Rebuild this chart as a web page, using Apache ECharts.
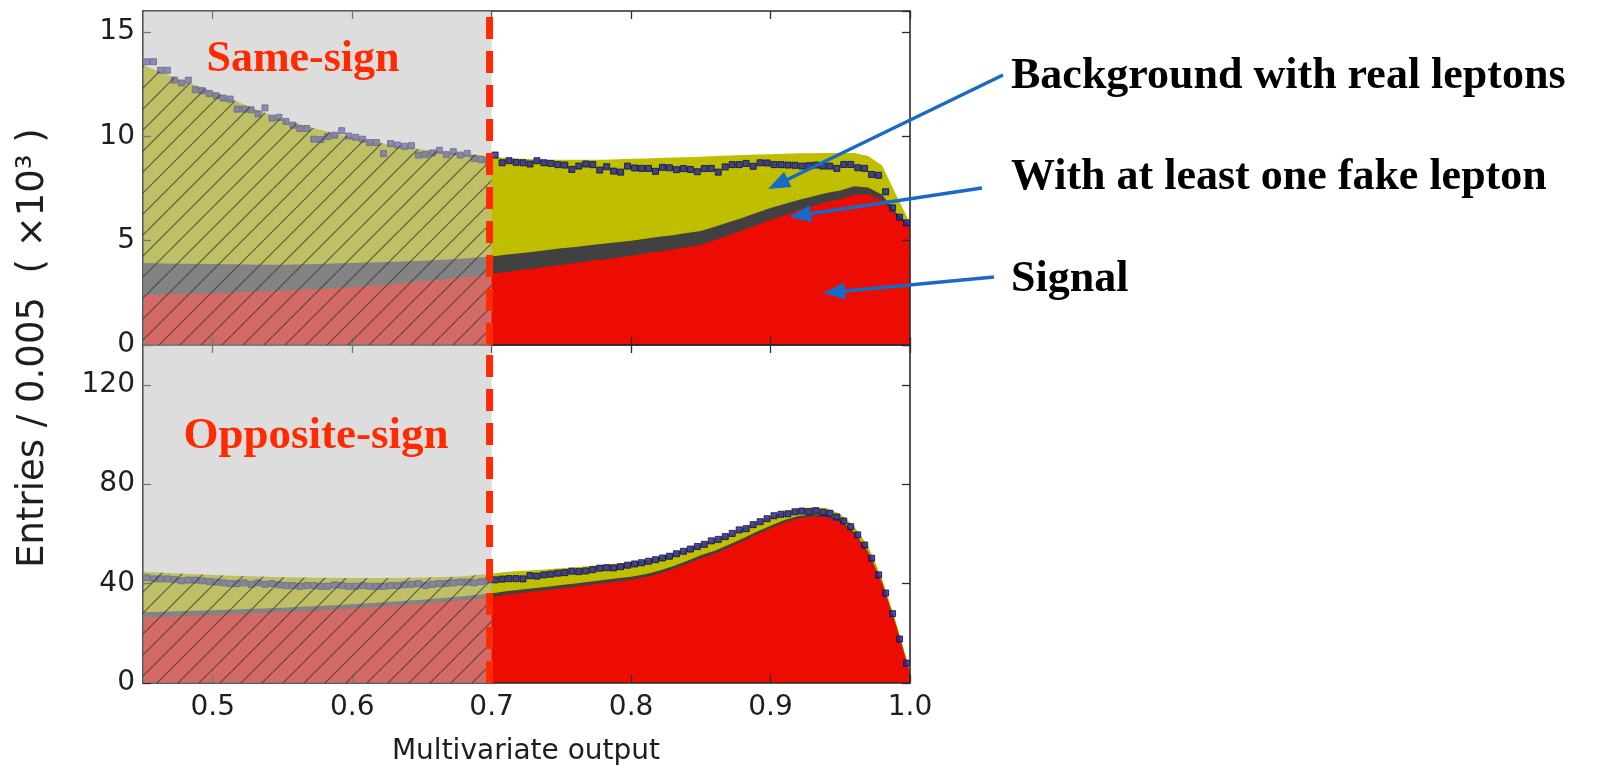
<!DOCTYPE html>
<html><head><meta charset="utf-8">
<script src="https://cdn.jsdelivr.net/npm/echarts@6/dist/echarts.min.js"></script>
<style>html,body{margin:0;padding:0;background:#fff}#c{width:1598px;height:768px}</style>
</head><body><div id="c"></div>
<script>
// ---------------- data ----------------
const xTicks = [0.5, 0.6, 0.7, 0.8, 0.9, 1.0];
const topYTicksInterval = 5, topYMax = 16;
const botYTicksInterval = 40, botYMax = 136;
const xMin = 0.45, xMax = 1.0;
const shadeStart = 0.45, shadeEnd = 0.7, cutValue = 0.6985;

// sample positions of the stacked predictions
const areaX = [0.45,0.475,0.5,0.525,0.55,0.575,0.6,0.625,0.65,0.675,0.7,
  0.71,0.72,0.73,0.74,0.75,0.76,0.77,0.78,0.79,0.8,0.81,0.82,0.83,0.84,0.85,
  0.86,0.87,0.88,0.89,0.9,0.91,0.92,0.93,0.94,0.95,0.96,0.97,0.98,0.99,1.0];

// Same-sign (x10^3)
const topSignal = [2.40,2.44,2.48,2.54,2.60,2.68,2.77,2.90,3.04,3.20,3.41,
  3.50,3.58,3.67,3.76,3.85,3.93,4.02,4.10,4.19,4.28,4.38,4.48,4.58,4.69,4.80,
  5.03,5.26,5.50,5.75,6.00,6.22,6.45,6.65,6.85,7.00,7.20,7.20,6.95,6.20,5.60];
const topFake = [1.53,1.45,1.40,1.32,1.25,1.20,1.16,1.08,1.00,0.92,0.83,
  0.82,0.81,0.80,0.79,0.78,0.77,0.76,0.75,0.73,0.72,0.71,0.70,0.68,0.67,0.66,
  0.64,0.62,0.60,0.58,0.56,0.53,0.50,0.46,0.43,0.40,0.40,0.35,0.25,0.15,0.10];
const topReal = [9.47,8.86,8.27,7.59,6.95,6.47,6.02,5.64,5.33,5.08,4.81,
  4.63,4.53,4.43,4.33,4.25,4.17,4.09,4.03,3.98,3.92,3.85,3.78,3.72,3.64,3.56,
  3.38,3.20,3.00,2.79,2.58,2.41,2.23,2.08,1.92,1.80,1.60,1.50,1.40,0.85,0.15];
const topData = [13.57,13.57,13.16,13.16,12.69,12.55,12.69,12.23,12.18,12.05,
  11.94,11.83,11.78,11.30,11.30,11.27,11.07,11.36,10.87,10.91,
  10.71,10.53,10.37,10.37,9.86,9.84,9.98,10.05,10.27,10.01,
  9.95,9.86,9.70,9.70,9.17,9.65,9.58,9.52,9.55,9.10,
  9.12,9.20,9.33,9.12,9.26,9.10,9.18,8.93,8.88,8.83,
  9.10,8.73,8.83,8.75,8.73,8.67,8.83,8.73,8.70,8.64,
  8.62,8.41,8.57,8.67,8.64,8.38,8.54,8.33,8.28,8.57,
  8.48,8.46,8.46,8.32,8.51,8.49,8.40,8.45,8.41,8.30,
  8.45,8.46,8.28,8.53,8.64,8.64,8.70,8.56,8.73,8.72,
  8.64,8.64,8.62,8.61,8.57,8.59,8.62,8.57,8.57,8.46,
  8.65,8.65,8.49,8.46,8.17,8.13,7.34,6.57,6.12,5.85];

// Opposite-sign (x10^3)
const botSignal = [26.5,26.9,27.4,27.9,28.5,29.2,30.0,30.9,31.9,33.1,34.5,
  35.5,36.1,36.8,37.4,38.1,38.7,39.4,40.1,40.8,41.5,42.6,44.0,45.8,47.9,50.2,
  52.0,54.5,57.0,59.8,62.3,64.6,66.2,67.0,66.8,64.8,60.0,52.2,39.8,22.8,3.5];
const botFake = [2.0,2.0,1.9,1.9,1.8,1.8,1.7,1.7,1.6,1.6,1.5,
  1.4,1.4,1.3,1.3,1.3,1.3,1.3,1.3,1.3,1.3,1.2,1.2,1.2,1.2,1.2,
  1.2,1.1,1.1,1.1,1.0,1.0,1.0,0.9,0.9,0.8,0.7,0.6,0.5,0.4,0.3];
const botReal = [16.3,15.2,14.2,13.2,12.3,11.3,10.5,9.6,8.9,8.1,8.0,
  7.8,7.6,7.3,7.1,6.8,6.6,6.4,6.2,6.0,5.8,5.6,5.4,5.2,5.0,4.8,
  4.6,4.4,4.2,4.0,3.8,3.3,3.0,2.8,2.7,2.4,2.3,2.2,1.7,1.3,1.2];
const botData = [42.4,41.9,41.9,41.9,41.6,41.1,41.4,41.4,41.1,40.8,
  40.6,40.3,40.0,40.0,40.3,39.7,40.3,39.7,40.0,39.5,
  39.2,39.2,38.9,39.2,39.2,38.9,38.9,39.5,39.2,38.9,
  38.9,39.2,38.9,38.9,38.9,39.2,39.2,39.5,39.7,40.0,
  39.2,39.7,40.0,40.0,40.3,40.6,40.6,40.3,40.8,41.4,
  41.5,41.8,42.0,42.0,41.9,43.2,43.0,43.5,43.8,44.2,
  44.4,45.0,44.8,45.1,45.6,46.2,46.4,46.3,46.8,47.4,
  47.9,48.4,49.0,49.6,50.3,51.0,52.0,53.0,53.9,54.9,
  55.8,57.2,57.8,58.9,60.2,61.6,62.1,63.7,64.9,66.1,
  67.3,67.9,68.1,68.9,69.2,68.9,69.3,68.7,68.3,66.8,
  65.2,62.9,59.6,55.5,50.2,43.5,36.2,27.9,17.7,8.0];

const binWidth = 0.005;
const binCenters = topData.map((_, i) => +(xMin + binWidth / 2 + i * binWidth).toFixed(4));

// ---------------- styles ----------------
const C_SIG = '#ec0c02', C_FAKE = '#414141', C_REAL = '#bfbf00';
const C_DOT = '#2323a8', C_DOT_EDGE = '#0b0b40';
const C_SHADE = 'rgba(190,190,190,0.53)';
const C_CUT = '#ff2a00';
const C_AXIS = '#2a2a2a';
const C_ARROW = '#176bc4';

function hatchCanvas() {
  const s = 21, c = document.createElement('canvas');
  c.width = s; c.height = s;
  const g = c.getContext('2d');
  g.strokeStyle = 'rgba(50,50,50,0.7)'; g.lineWidth = 1.2;
  for (const k of [-s, 0, s]) { g.beginPath(); g.moveTo(k, s); g.lineTo(k + s, 0); g.stroke(); }
  return c;
}
const hatch = hatchCanvas();

function panelSeries(p, sig, fake, real, dots, yMax) {
  const xi = p * 2, yi = p * 2;
  // cumulative stack levels, drawn back-to-front
  const lvlSig = areaX.map((x, i) => [x, sig[i]]);
  const lvlFake = areaX.map((x, i) => [x, +(sig[i] + fake[i]).toFixed(3)]);
  const lvlReal = areaX.map((x, i) => [x, +(sig[i] + fake[i] + real[i]).toFixed(3)]);
  const left = lvlReal.filter(d => d[0] <= shadeEnd);
  const base = { type: 'line', xAxisIndex: xi, yAxisIndex: yi, symbol: 'none', silent: true,
    lineStyle: { opacity: 0 }, animation: false };
  return [
    Object.assign({}, base, { name: 'Background with real leptons', data: lvlReal, areaStyle: { color: C_REAL, opacity: 1 }, z: 2 }),
    Object.assign({}, base, { name: 'With at least one fake lepton', data: lvlFake, areaStyle: { color: C_FAKE, opacity: 1 }, z: 2 }),
    Object.assign({}, base, { name: 'Signal', data: lvlSig, areaStyle: { color: C_SIG, opacity: 1 }, z: 2 }),
    { type: 'scatter', xAxisIndex: xi, yAxisIndex: yi, data: binCenters.map((x, i) => [x, dots[i]]), symbol: 'rect', symbolSize: 6,
      itemStyle: { color: C_DOT, borderColor: C_DOT_EDGE, borderWidth: 1 }, z: 3, silent: true, animation: false },
    Object.assign({}, base, { name: 'shade', data: [[shadeStart, yMax], [shadeEnd, yMax]], areaStyle: { color: C_SHADE, opacity: 1 }, z: 5 }),
    Object.assign({}, base, { name: 'hatch', data: left, areaStyle: { color: { image: hatch, repeat: 'repeat' }, opacity: 1 }, z: 6 }),
    { type: 'line', xAxisIndex: xi, yAxisIndex: yi, symbol: 'none', silent: true, animation: false, z: 8,
      data: [[cutValue, 0], [cutValue, yMax]], lineStyle: { color: C_CUT, width: 7, type: [22, 12] } }
  ];
}

function xAx(grid, pos, labels) {
  return { type: 'value', gridIndex: grid, position: pos, min: xMin, max: xMax, z: 4,
    axisLine: { show: true, onZero: false, lineStyle: { color: C_AXIS, width: 1.6 } },
    axisTick: { show: true, inside: true, length: 8, customValues: xTicks, lineStyle: { color: C_AXIS, width: 1.3 } },
    axisLabel: { show: labels, customValues: xTicks, formatter: v => v.toFixed(1), margin: 11,
      fontFamily: 'DejaVu Sans', fontSize: 28, color: '#1e1e1e' },
    splitLine: { show: false } };
}
function yAx(grid, pos, max, interval, labels) {
  return { type: 'value', gridIndex: grid, position: pos, min: 0, max: max, interval: interval, z: 4,
    axisLine: { show: true, onZero: false, lineStyle: { color: C_AXIS, width: 1.6 } },
    axisTick: { show: true, inside: true, length: 8, lineStyle: { color: C_AXIS, width: 1.3 } },
    axisLabel: { show: labels, margin: 8, showMaxLabel: false, fontFamily: 'DejaVu Sans', fontSize: 28, color: '#1e1e1e' },
    splitLine: { show: false } };
}

function arrow(x1, y1, x2, y2) {
  const dx = x2 - x1, dy = y2 - y1, L = Math.hypot(dx, dy), ux = dx / L, uy = dy / L, hl = 22, hw = 8.5;
  const bx = x2 - ux * hl, by = y2 - uy * hl;
  return [
    { type: 'line', shape: { x1: x1, y1: y1, x2: bx + ux * 2, y2: by + uy * 2 }, style: { stroke: C_ARROW, lineWidth: 3.5 }, z: 20 },
    { type: 'polygon', shape: { points: [[x2, y2], [bx - uy * hw, by + ux * hw], [bx + uy * hw, by - ux * hw]] }, style: { fill: C_ARROW }, z: 20 }
  ];
}
const serif = 'bold 44px "Liberation Serif", "Times New Roman", serif';
const graphics = [
  { type: 'text', x: 303, y: 60, z: 20, style: { text: 'Same-sign', font: serif, fill: C_CUT, align: 'center', verticalAlign: 'middle' } },
  { type: 'text', x: 316, y: 436, z: 20, style: { text: 'Opposite-sign', font: 'bold 45px "Liberation Serif", serif', fill: C_CUT, align: 'center', verticalAlign: 'middle' } },
  { type: 'text', x: 1011, y: 77, z: 20, style: { text: 'Background with real leptons', font: serif, fill: '#000', align: 'left', verticalAlign: 'middle' } },
  { type: 'text', x: 1011, y: 178, z: 20, style: { text: 'With at least one fake lepton', font: serif, fill: '#000', align: 'left', verticalAlign: 'middle' } },
  { type: 'text', x: 1011, y: 280, z: 20, style: { text: 'Signal', font: serif, fill: '#000', align: 'left', verticalAlign: 'middle' } },
  { type: 'text', x: 526, y: 752, z: 20, style: { text: 'Multivariate output', font: '28px "DejaVu Sans"', fill: '#1e1e1e', align: 'center', verticalAlign: 'middle' } },
  { type: 'text', x: 33, y: 348, rotation: Math.PI / 2, z: 20, style: { text: 'Entries / 0.005  ( \u00d710\u00b3 )', font: '37px "DejaVu Sans"', fill: '#1e1e1e', align: 'center', verticalAlign: 'middle' } }
].concat(arrow(1003, 75, 768, 189), arrow(982, 188, 789, 217), arrow(994, 277, 823, 293));

const chart = echarts.init(document.getElementById('c'), null, { renderer: 'canvas' });
chart.setOption({
  animation: false,
  backgroundColor: '#ffffff',
  grid: [
    { left: 143, top: 11, width: 767, height: 334, show: false },
    { left: 143, top: 345, width: 767, height: 338, show: false }
  ],
  xAxis: [xAx(0, 'bottom', false), xAx(0, 'top', false), xAx(1, 'bottom', true), xAx(1, 'top', false)],
  yAxis: [yAx(0, 'left', topYMax, topYTicksInterval, true), yAx(0, 'right', topYMax, topYTicksInterval, false),
          yAx(1, 'left', botYMax, botYTicksInterval, true), yAx(1, 'right', botYMax, botYTicksInterval, false)],
  series: panelSeries(0, topSignal, topFake, topReal, topData, topYMax)
    .concat(panelSeries(1, botSignal, botFake, botReal, botData, botYMax)),
  graphic: graphics
});
</script></body></html>
